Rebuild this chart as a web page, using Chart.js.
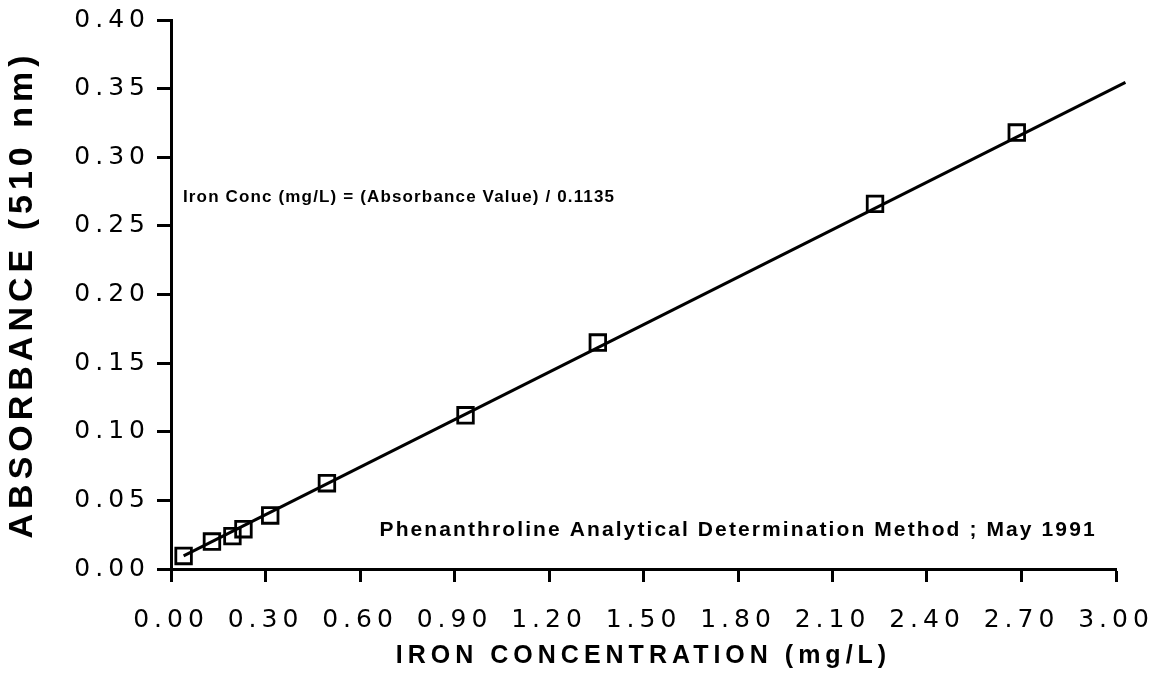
<!DOCTYPE html>
<html><head><meta charset="utf-8">
<script src="https://cdn.jsdelivr.net/npm/chart.js@4/dist/chart.umd.min.js"></script>
<style>html,body{margin:0;padding:0;background:#fff;}canvas{display:block;}</style>
</head><body>
<canvas id="c" width="1157" height="679"></canvas>
<script>
// ---- data ----
const ironConc   = [0.04, 0.13, 0.195, 0.23, 0.315, 0.495, 0.935, 1.355, 2.235, 2.685];
const absorbance = [0.0095, 0.020, 0.024, 0.029, 0.039, 0.0625, 0.112, 0.165, 0.266, 0.318];
const fitX = [0.04, 3.03];
const fitY = [0.0095, 0.3546];
const xTickValues = [0, 0.3, 0.6, 0.9, 1.2, 1.5, 1.8, 2.1, 2.4, 2.7, 3.0];
const xTickLabels = ['0.00','0.30','0.60','0.90','1.20','1.50','1.80','2.10','2.40','2.70','3.00'];
const yTickValues = [0, 0.05, 0.10, 0.15, 0.20, 0.25, 0.30, 0.35, 0.40];
const yTickLabels = ['0.00','0.05','0.10','0.15','0.20','0.25','0.30','0.35','0.40'];
const xTitle = 'IRON CONCENTRATION (mg/L)';
const yTitle = 'ABSORBANCE (510 nm)';
const noteTexts = ['Iron Conc (mg/L) = (Absorbance Value) / 0.1135',
                   'Phenanthroline Analytical Determination Method ; May 1991'];

// annotation anchors (data units) and styles
const noteStyle = [
  {x: 0.038, y: 0.271, size: 17, spacing: 1.15},
  {x: 0.662, y: 0.0284, size: 21, spacing: 2.1}
];

const FONT = "'Liberation Sans', Arial, Helvetica, sans-serif";
const TICKFONT = "'DejaVu Sans', 'Liberation Sans', sans-serif";

const spacingPlugin = {
  id: 'spacing',
  beforeLayout(chart) { chart.ctx.letterSpacing = '5px'; },
  beforeDraw(chart) { chart.ctx.letterSpacing = '5px'; },
  afterDraw(chart) {
    const ctx = chart.ctx;
    const xs = chart.scales.x, ys = chart.scales.y;
    ctx.save();
    ctx.fillStyle = '#000';
    ctx.textAlign = 'left';
    ctx.textBaseline = 'middle';
    noteTexts.forEach((t, i) => {
      const s = noteStyle[i];
      ctx.letterSpacing = s.spacing + 'px';
      ctx.font = 'bold ' + s.size + 'px ' + FONT;
      ctx.fillText(t, xs.getPixelForValue(s.x), ys.getPixelForValue(s.y));
    });
    ctx.restore();
  }
};

new Chart(document.getElementById('c'), {
  type: 'scatter',
  data: {
    datasets: [
      {
        type: 'line',
        data: fitX.map((x, i) => ({x: x, y: fitY[i]})),
        borderColor: '#000',
        borderWidth: 3,
        pointRadius: 0,
        fill: false,
        clip: false,
        order: 2
      },
      {
        data: ironConc.map((x, i) => ({x: x, y: absorbance[i]})),
        pointStyle: 'rect',
        pointRadius: 11,
        pointHoverRadius: 11,
        borderColor: '#000',
        borderWidth: 2.8,
        backgroundColor: 'rgba(0,0,0,0)',
        showLine: false,
        order: 1
      }
    ]
  },
  options: {
    responsive: false,
    devicePixelRatio: 1,
    animation: false,
    events: [],
    layout: {padding: {top: 20, right: 41, left: 0, bottom: 0}},
    plugins: {legend: {display: false}, tooltip: {enabled: false}},
    scales: {
      x: {
        type: 'linear',
        min: 0, max: 3,
        afterBuildTicks: s => { s.ticks = xTickValues.map(v => ({value: v})); },
        afterFit: s => { s.height = 110; s.paddingLeft = 0; s.paddingRight = 0; },
        ticks: {
          callback: (v, i) => xTickLabels[i],
          autoSkip: false, maxRotation: 0, minRotation: 0,
          color: '#000', padding: 23,
          font: {family: TICKFONT, size: 25}
        },
        grid: {display: true, drawOnChartArea: false, drawTicks: true, tickLength: 13, tickWidth: 3, color: '#000'},
        border: {display: true, width: 3, color: '#000'},
        title: {display: true, text: xTitle, color: '#000', padding: {top: 0, bottom: 8},
                font: {family: FONT, size: 25, weight: 'bold'}}
      },
      y: {
        type: 'linear',
        min: 0, max: 0.4,
        afterBuildTicks: s => { s.ticks = yTickValues.map(v => ({value: v})); },
        afterFit: s => { s.width = 171; s.paddingTop = 0; s.paddingBottom = 0; },
        ticks: {
          callback: (v, i) => yTickLabels[i],
          autoSkip: false,
          color: '#000', padding: 7,
          font: {family: TICKFONT, size: 25}
        },
        grid: {display: true, drawOnChartArea: false, drawTicks: true, tickLength: 14, tickWidth: 3, color: '#000'},
        border: {display: true, width: 3, color: '#000'},
        title: {display: true, text: yTitle, color: '#000', padding: {top: 2, bottom: 0},
                font: {family: FONT, size: 34, weight: 'bold'}}
      }
    }
  },
  plugins: [spacingPlugin]
});
</script>
</body></html>
